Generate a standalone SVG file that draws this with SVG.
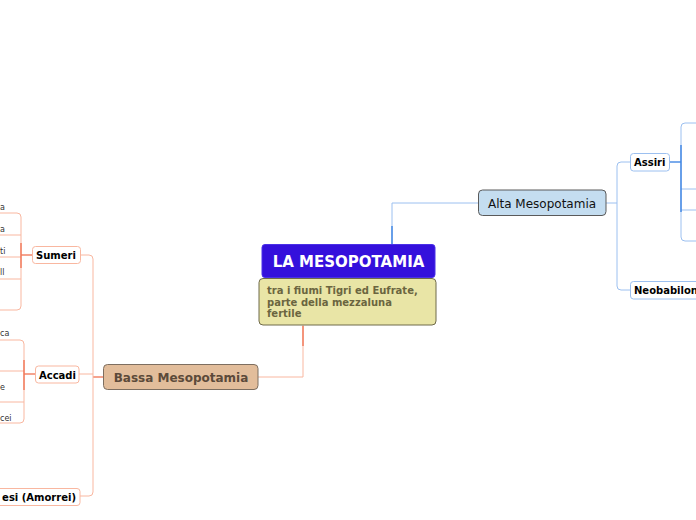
<svg xmlns="http://www.w3.org/2000/svg" width="696" height="520" viewBox="0 0 696 520">
<style>
.lb{stroke:#9cc0f0;stroke-width:1;fill:none}
.db{stroke:#2474e0;stroke-width:1.2;fill:none}
.ls{stroke:#f9b7a0;stroke-width:1;fill:none}
.ds{stroke:#ee6644;stroke-width:1.2;fill:none}
.t{font-family:"DejaVu Sans",Verdana,sans-serif}
.b{font-weight:bold}
.sub{fill:#fff;stroke:#9cc0f0;stroke-width:1}
.subs{fill:#fff;stroke:#f9b7a0;stroke-width:1}
.frag{font-family:"DejaVu Sans",Verdana,sans-serif;font-size:8px;fill:#333}
</style>
<g id="connectors">
<path class="lb" d="M392,244 V203 H478"/>
<path class="db" d="M392,226 V244"/>
<path class="lb" d="M606,203 H617"/>
<path class="lb" d="M630,162 H621 Q617,162 617,166 V286 Q617,290 621,290 H630"/>
<path class="db" d="M670,162 H681"/>
<path class="lb" d="M696,123 H685 Q681,123 681,127 V237 Q681,241 685,241 H696 M681,189 H696 M681,210 H696"/>
<path class="db" d="M681,145 V212"/>
<path class="ls" d="M303,325 V377 H258"/>
<path class="ds" d="M303,326 V346"/>
<path class="ds" d="M103,377 H93"/>
<path class="ls" d="M80,255 H89 Q93,255 93,259 V492 Q93,496 89,496 H80 M79,374 H93"/>
<path class="ds" d="M32,255 H21"/>
<path class="ls" d="M0,213 H17 Q21,213 21,217 V306 Q21,310 17,310 H0 M0,235 H21 M0,257 H21 M0,279 H21"/>
<path class="ds" d="M21,243 V268"/>
<path class="ds" d="M35,374 H24"/>
<path class="ls" d="M0,340 H20 Q24,340 24,344 V419 Q24,423 20,423 H0 M0,371 H24 M0,402 H24"/>
<path class="ds" d="M24,360 V390"/>
</g>
<g id="central">
<rect x="262" y="244.5" width="173" height="33" rx="3" fill="#3410dc" stroke="#4a30e8"/>
<text class="t b" x="348.5" y="267" font-size="15" fill="#fff" text-anchor="middle">LA MESOPOTAMIA</text>
</g>
<g id="note">
<rect x="259" y="278.5" width="177" height="46.5" rx="4" fill="#e9e5a6" stroke="#6f6a4a"/>
<text class="t b" font-size="10" fill="#6b6540"><tspan x="267" y="294">tra i fiumi Tigri ed Eufrate,</tspan><tspan x="267" y="305.5">parte della mezzaluna</tspan><tspan x="267" y="317">fertile</tspan></text>
</g>
<g id="alta">
<rect x="478.5" y="190" width="127.5" height="25.5" rx="4" fill="#c4ddf0" stroke="#5a5a5a"/>
<text class="t" x="542" y="208" font-size="12" fill="#111" text-anchor="middle">Alta Mesopotamia</text>
</g>
<g id="assiri">
<rect x="630.5" y="153.5" width="39" height="17.5" rx="3" class="sub"/>
<text class="t b" x="634" y="166" font-size="10" fill="#000">Assiri</text>
</g>
<g id="neobabilon">
<rect x="630.5" y="281.5" width="80" height="17.5" rx="3" class="sub"/>
<text class="t b" x="634" y="294" font-size="10" fill="#000">Neobabilon</text>
</g>
<g id="bassa">
<rect x="103.5" y="364.5" width="154.5" height="25" rx="4" fill="#e2bd9b" stroke="#7d6e60"/>
<text class="t b" x="181" y="382" font-size="12" fill="#5c4a3a" text-anchor="middle">Bassa Mesopotamia</text>
</g>
<g id="sumeri">
<rect x="32.5" y="246.5" width="48" height="17" rx="3" class="subs"/>
<text class="t b" x="36" y="259" font-size="10" fill="#000">Sumeri</text>
</g>
<g id="accadi">
<rect x="35.5" y="366" width="43.5" height="17" rx="3" class="subs"/>
<text class="t b" x="39" y="378.5" font-size="10" fill="#000">Accadi</text>
</g>
<g id="amorrei">
<rect x="-10" y="488.5" width="90" height="17" rx="3" class="subs"/>
<text class="t b" x="76" y="501" font-size="10" fill="#000" text-anchor="end">esi (Amorrei)</text>
</g>
<g id="fragments">
<text class="frag" x="0" y="210">a</text>
<text class="frag" x="0" y="232">a</text>
<text class="frag" x="0" y="254">ti</text>
<text class="frag" x="0" y="275">ll</text>
<text class="frag" x="0" y="336">ca</text>
<text class="frag" x="0" y="390">e</text>
<text class="frag" x="0" y="421">cei</text>
</g>
</svg>
